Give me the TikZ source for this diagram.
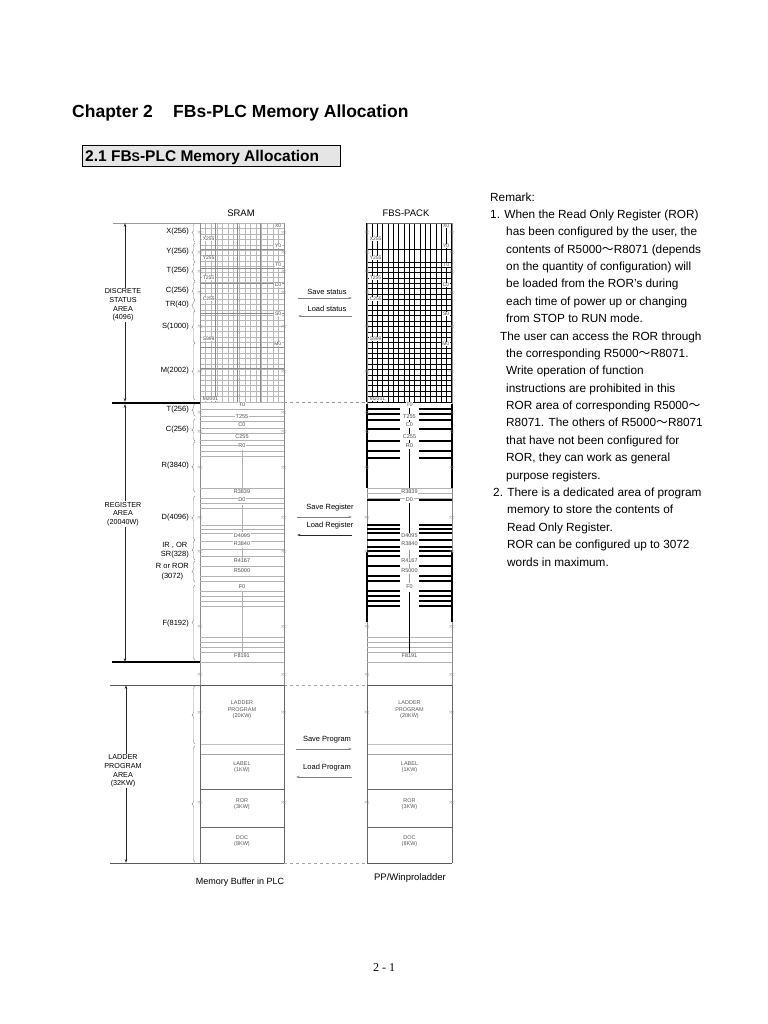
\documentclass[tikz,border=0pt]{standalone}
\usepackage{fontspec}
\setmainfont{Liberation Sans}
\newfontfamily\cjkf{Noto Sans CJK SC}
\newfontfamily\serf{Liberation Serif}
\usetikzlibrary{decorations.pathreplacing,arrows.meta}
\newcommand{\fz}[2]{\fontsize{#1bp}{#2bp}\selectfont}
\newcommand{\wv}{{\cjkf ～}}
\begin{document}
\begin{tikzpicture}[x=1bp,y=-1bp,
  lbl/.style={font=\fz{7.5}{9.5}, anchor=east, inner sep=0, align=center},
  area/.style={font=\fz{7.2}{8.7}, align=center, inner sep=0},
  tl/.style={font=\fz{5}{5}, text=black!70, inner sep=0.6, fill=white},
  lt/.style={font=\fz{5.5}{6.5}, text=black!65, align=center, inner sep=0},
  fine/.style={black!28, line width=0.35},
  midl/.style={black!45, line width=0.55},
  boldl/.style={black, line width=1.1},
  coll/.style={black!45, line width=0.6},
  dim/.style={black!85, line width=0.7, {Stealth[length=4bp,width=2.6bp]}-{Stealth[length=4bp,width=2.6bp]}},
  brc/.style={black!45, line width=0.4, decorate, decoration={brace, amplitude=3bp}},
  brk/.style={font=\fz{6}{6}, text=black!45, inner sep=0},
  arr/.style={black!50, line width=0.6, -{Stealth[length=3.5bp,width=2.2bp]}},
  rem/.style={font=\fz{11.8}{14}, anchor=base west, inner sep=0},
  hdr/.style={font=\fz{9.5}{11}, inner sep=0},
  mtx/.style={font=\fz{7.5}{9}, inner sep=0},
]
\useasboundingbox (0,0) rectangle (768,1024);
\fill[white] (0,0) rectangle (768,1024);

% ---------- titles ----------
\node[font=\fz{17.5}{20}\bfseries, anchor=base west, inner sep=0] (ch) at (72,117) {Chapter 2};
\node[font=\fz{17.5}{20}\bfseries, anchor=base west, inner sep=0] (cht) at (173,117) {FBs-PLC Memory Allocation};
\node[draw=black, line width=0.9, fill=black!10, minimum width=258bp, minimum height=21bp, anchor=north west, inner sep=0] (secbox) at (82,145) {};
\node[font=\fz{15.5}{18}\bfseries, anchor=base west, inner sep=0] (sec) at (85,161) {2.1 FB{\fz{12.5}{14}S}-PLC Memory Allocation};

% ---------- headers ----------
\node[hdr] (sram) at (241,213) {SRAM};
\node[hdr] (fbs) at (406,213) {FBS-PACK};

% ---------- discrete area: SRAM grid ----------
\foreach \i in {0,...,15} \draw[fine] ({200+\i*5.6},223) -- ({200+\i*5.6},402);
\foreach \i in {0,...,33} \draw[fine] (200,{223+\i*5.42}) -- (284,{223+\i*5.42});
\foreach \x in {215,237,260} \draw[midl] (\x,223) -- (\x,402);
\foreach \y in {249,268,283,313,347,368} \draw[midl] (200,\y) -- (284,\y);

% ---------- discrete area: FBS grid ----------
\foreach \i in {0,...,16} \draw[boldl] ({367+\i*5.3125},223) -- ({367+\i*5.3125},402);
\foreach \i in {0,...,26} \draw[black, line width=1.0] (367,{262+\i*5.385}) -- (452,{262+\i*5.385});
\draw[black, line width=1.0] (367,249) -- (452,249);

% discrete labels
\foreach \nm/\xo/\y/\side in {X0/0/226/e, X255/0/239/w, Y0/0/246/e, Y255/0/258/w, T0/0/265/e, T255/0/278/w, C0/0/285/e, C255/0/299/w, S0/0/314/e, S999/0/339/w, M0/0/344/e, M2001/0/399/w}{
  \if\side e
    \node[tl, anchor=east] (s\nm) at (282,\y) {\nm};
    \node[tl, anchor=east] (f\nm) at (450,\y) {\nm};
  \else
    \node[tl, anchor=west] (s\nm) at (202,\y) {\nm};
    \node[tl, anchor=west] (f\nm) at (369,\y) {\nm};
  \fi
}

% ---------- column borders ----------
\draw[coll] (200,223) -- (200,863);
\draw[coll] (284,223) -- (284,863);
\draw[coll] (367,223) -- (367,863);
\draw[coll] (452,223) -- (452,863);
\draw[black!40, line width=0.5] (113,223) -- (200,223);
\draw[black!60, line width=0.6] (367,223) -- (452,223);
\draw[black!40, dashed, line width=0.5] (284,402) -- (367,402);
\draw[black, line width=1.6] (112,403) -- (200,403);
\draw[black, line width=1.6] (112,662) -- (200,662);

% ---------- register area: SRAM ----------
\foreach \y in {409,416,421,428,433,440,445,451,456,488,498,503,508,525,529,533,541,549,556,566,576,581,591,596,601,606,637,642,647,652,662}
  \draw[black!30, line width=0.6] (200,\y) -- (284,\y);
\draw[black!30, line width=0.6] (242,450) -- (242,488);
\draw[black!30, line width=0.6] (242,505) -- (242,532);
\draw[black!30, line width=0.6] (242,548) -- (242,558);
\draw[black!30, line width=0.6] (242,592) -- (242,652);

% ---------- register area: FBS ----------
\foreach \y in {409,414,420,429,441,451,458,500,525,529,533,540,547,551,556,566,576,581,591,596,601,606}{
  \draw[boldl] (367,\y) -- (400,\y);
  \draw[boldl] (419,\y) -- (452,\y);
}
\foreach \y in {488,493,498,637,642,647,652,662}
  \draw[black!30, line width=0.6] (367,\y) -- (452,\y);
\draw[boldl] (409.5,404) -- (409.5,488);
\draw[boldl] (409.5,502) -- (409.5,535);
\draw[black!40, line width=0.6] (409.5,550) -- (409.5,583);
\draw[boldl] (409.5,592) -- (409.5,653);
\draw[boldl] (367,404) -- (367,488);
\draw[boldl] (452,404) -- (452,488);
\draw[boldl] (367,552) -- (367,622);
\draw[boldl] (452,552) -- (452,622);

% register labels in columns
\foreach \nm/\y in {T0/405, T255/417, C0/425, C255/437, R0/446, R3839/492, D0/500, D4095/536, R3840/544, R4167/561, R5000/571, F0/587, F8191/656}{
  \node[tl, font=\fz{5.5}{5.5}] (sr\nm) at (242,\y) {\nm};
  \node[tl, font=\fz{5.5}{5.5}] (fr\nm) at (409.5,\y) {\nm};
}

% ---------- ladder area ----------
\draw[black!65, line width=0.7] (110,685) -- (284,685);
\draw[black!65, line width=0.7] (367,685) -- (452,685);
\draw[black!35, dashed, line width=0.5] (284,685) -- (367,685);
\draw[black!65, line width=0.7] (110,863) -- (284,863);
\draw[black!65, line width=0.7] (367,863) -- (452,863);
\draw[black!35, dashed, line width=0.5] (284,863) -- (367,863);
\foreach \x/\xr in {200/284, 367/452}{
  \draw[black!25, line width=0.5] (\x,744) -- (\xr,744);
  \draw[black!35, line width=0.6] (\x,754) -- (\xr,754);
  \draw[black!60, line width=0.6] (\x,789) -- (\xr,789);
  \draw[black!60, line width=0.6] (\x,827) -- (\xr,827);
  \draw[black!60, line width=0.7] (\x,685) -- (\x,863);
  \draw[black!60, line width=0.7] (\xr,685) -- (\xr,863);
}
\foreach \c/\tag in {242/s, 409.5/f}{
  \node[lt] (\tag lad) at (\c,710) {LADDER\\PROGRAM\\(20KW)};
  \node[lt] (\tag lab) at (\c,767) {LABEL\\(1KW)};
  \node[lt] (\tag ror) at (\c,804) {ROR\\(3KW)};
  \node[lt] (\tag doc) at (\c,841) {DOC\\(8KW)};
}

% ---------- dimension arrows ----------
\coordinate (d1t) at (125,223); \coordinate (d1b) at (125,402);
\coordinate (d2t) at (125,404); \coordinate (d2b) at (125,662);
\coordinate (d3t) at (126,685); \coordinate (d3b) at (126,863);
\draw[dim] (d1t) -- (d1b);
\draw[dim] (d2t) -- (d2b);
\draw[dim, line width=1.0] (d3t) -- (d3b);
\node[area, fill=white, inner sep=1] (darea) at (123,305) {DISCRETE\\STATUS\\AREA\\(4096)};
\node[area, fill=white, inner sep=1] (rarea) at (123,514) {REGISTER\\AREA\\(20040W)};
\node[area, fill=white, inner sep=1] (larea) at (123,771) {LADDER\\PROGRAM\\AREA\\(32KW)};

% ---------- left labels ----------
\node[lbl] (lx) at (189,232) {X(256)};
\node[lbl] (ly) at (189,252) {Y(256)};
\node[lbl] (lt1) at (189,271) {T(256)};
\node[lbl] (lc1) at (189,291) {C(256)};
\node[lbl] (ltr) at (189,305) {TR(40)};
\node[lbl] (ls) at (189,327) {S(1000)};
\node[lbl] (lm) at (189,371) {M(2002)};
\node[lbl] (lt2) at (189,410) {T(256)};
\node[lbl] (lc2) at (189,430) {C(256)};
\node[lbl] (lr) at (189,466) {R(3840)};
\node[lbl] (ld) at (189,518) {D(4096)};
\node[lbl] (lir) at (189,550) {IR , OR\\SR(328)};
\node[lbl] (lror) at (189,571.5) {R or ROR\\(3072)};
\node[lbl] (lf) at (189,624) {F(8192)};

% ---------- braces ----------
\foreach \a/\b in {223/242, 243/262, 262/281, 282/300, 300/311, 311/343, 343/400, 404/416, 419/441, 442/492, 496/540, 540/560, 561/582, 585/660, 686/744, 746/862}
  \draw[brc] (195,\b) -- (195,\a);

% ---------- break marks ----------
\foreach \y in {233,253,272,293,327,372,413,432,468,518,552,627,675,713,803}
  \foreach \x in {200,284,367,452}
    \node[brk] at (\x,\y) {$\approx$};

% ---------- transfer arrows ----------
\node[mtx] (tss) at (327,292) {Save status};
\node[mtx] (tls) at (327,309) {Load status};
\coordinate (ss1) at (298,298); \coordinate (ss2) at (352,298);
\coordinate (ls1) at (352,316); \coordinate (ls2) at (298,316);
\draw[arr] (ss1) -- (ss2);
\draw[arr] (ls1) -- (ls2);
\node[mtx] (tsr) at (330,508) {Save Register};
\node[mtx] (tlr) at (330,526) {Load Register};
\coordinate (sr1) at (297,517); \coordinate (sr2) at (352,517);
\coordinate (lr1) at (352,535); \coordinate (lr2) at (297,535);
\draw[arr] (sr1) -- (sr2);
\draw[arr, black!85, line width=0.8] (lr1) -- (lr2);
\node[mtx] (tsp) at (327,740) {Save Program};
\node[mtx] (tlp) at (327,768) {Load Program};
\coordinate (sp1) at (296,749); \coordinate (sp2) at (352,749);
\coordinate (lp1) at (352,777); \coordinate (lp2) at (296,777);
\draw[arr] (sp1) -- (sp2);
\draw[arr] (lp1) -- (lp2);

% ---------- bottom labels ----------
\node[font=\fz{9}{11}, inner sep=0] (mb) at (240,882) {Memory Buffer in PLC};
\node[font=\fz{9.5}{11}, inner sep=0] (pp) at (410,878) {PP/Winproladder};
\node[font=\serf\fz{12}{14}, inner sep=0] (pg) at (384,968) {2 - 1};

% ---------- remarks ----------
\node[rem] (r0) at (490,201) {Remark:};
\node[rem] (r1) at (490,218.4) {1. When the Read Only Register (ROR)};
\node[rem] (r2) at (506,235.8) {has been configured by the user, the};
\node[rem] (r3) at (506,253.1) {contents of R5000\wv R8071 (depends};
\node[rem] (r4) at (506,270.5) {on the quantity of configuration) will};
\node[rem] (r5) at (506,287.9) {be loaded from the ROR's during};
\node[rem] (r6) at (506,305.3) {each time of power up or changing};
\node[rem] (r7) at (506,322.7) {from STOP to RUN mode.};
\node[rem] (r8) at (500,340.0) {The user can access the ROR through};
\node[rem] (r9) at (506,357.4) {the corresponding R5000\wv R8071.};
\node[rem] (r10) at (506,374.8) {Write operation of function};
\node[rem] (r11) at (506,392.2) {instructions are prohibited in this};
\node[rem] (r12) at (506,409.6) {ROR area of corresponding R5000\wv};
\node[rem] (r13) at (506,426.9) {R8071. The others of R5000\wv R8071};
\node[rem] (r14) at (506,444.3) {that have not been configured for};
\node[rem] (r15) at (506,461.7) {ROR, they can work as general};
\node[rem] (r16) at (506,479.1) {purpose registers.};
\node[rem] (r17) at (493,496.5) {2. There is a dedicated area of program};
\node[rem] (r18) at (507,513.8) {memory to store the contents of};
\node[rem] (r19) at (507,531.2) {Read Only Register.};
\node[rem] (r20) at (507,548.6) {ROR can be configured up to 3072};
\node[rem] (r21) at (507,566.0) {words in maximum.};
\end{tikzpicture}
\end{document}
